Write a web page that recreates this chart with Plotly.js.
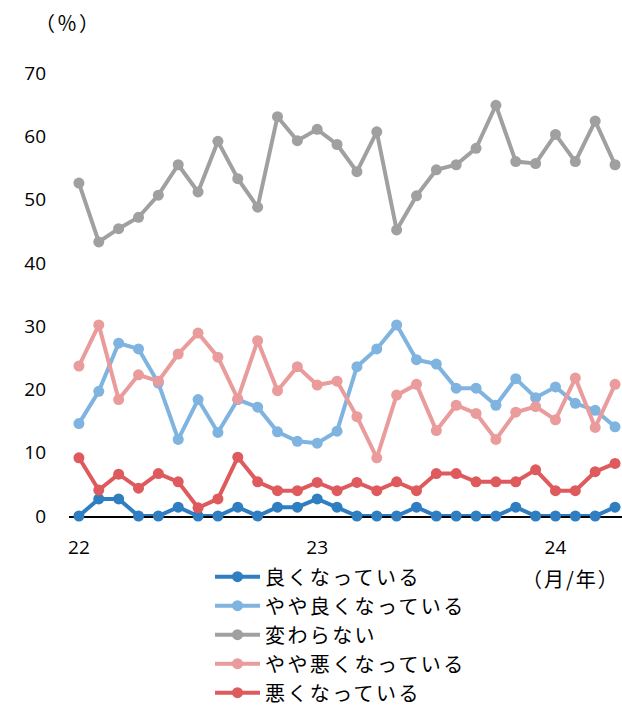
<!DOCTYPE html>
<html>
<head>
<meta charset="utf-8">
<script src="https://cdn.plot.ly/plotly-3.0.1.min.js"></script>
<style>
html,body{margin:0;padding:0;background:#fff;}
#chart{width:622px;height:706px;}
.legendtext{letter-spacing:2.4px;}
.annotation-text{letter-spacing:2px;}
</style>
</head>
<body>
<div id="chart"></div>
<script>
// Monthly observations, Jan 2022 – Apr 2024 (index 0 = Jan 2022)
const months = Array.from({length: 28}, (_, i) => i);
const tickVals = [0, 12, 24];
const tickText = ["22", "23", "24"];

const seriesNames = ["良くなっている", "やや良くなっている", "変わらない", "やや悪くなっている", "悪くなっている"];

const better = [0, 2.7, 2.7, 0, 0, 1.4, 0, 0, 1.4, 0, 1.4, 1.4, 2.7, 1.4, 0, 0, 0, 1.4, 0, 0, 0, 0, 1.4, 0, 0, 0, 0, 1.4];
const slightlyBetter = [14.6, 19.7, 27.3, 26.4, 21.0, 12.1, 18.4, 13.2, 18.4, 17.2, 13.3, 11.8, 11.5, 13.4, 23.6, 26.4, 30.2, 24.7, 24.0, 20.2, 20.2, 17.5, 21.7, 18.7, 20.4, 17.8, 16.7, 14.1];
const unchanged = [52.6, 43.3, 45.4, 47.2, 50.7, 55.5, 51.2, 59.2, 53.3, 48.8, 63.1, 59.3, 61.1, 58.7, 54.4, 60.7, 45.2, 50.6, 54.7, 55.5, 58.1, 64.9, 56.0, 55.7, 60.3, 56.0, 62.4, 55.5];
const slightlyWorse = [23.7, 30.2, 18.4, 22.3, 21.3, 25.6, 28.9, 25.1, 18.5, 27.7, 19.8, 23.6, 20.7, 21.3, 15.7, 9.2, 19.1, 20.8, 13.5, 17.5, 16.2, 12.1, 16.4, 17.3, 15.2, 21.8, 14.0, 20.8];
const worse = [9.2, 4.1, 6.6, 4.4, 6.7, 5.4, 1.3, 2.7, 9.3, 5.4, 4.0, 4.0, 5.3, 4.0, 5.3, 4.0, 5.4, 4.0, 6.7, 6.7, 5.4, 5.4, 5.4, 7.3, 4.0, 4.0, 7.0, 8.3];

const colors = ["#2F7EC1", "#7FB3E0", "#A0A0A0", "#EA9B9B", "#DE5A5D"];
const values = [better, slightlyBetter, unchanged, slightlyWorse, worse];

const traces = values.map((v, k) => ({
  x: months,
  y: v,
  name: seriesNames[k],
  type: "scatter",
  mode: "lines+markers",
  line: {color: colors[k], width: 4},
  marker: {color: colors[k], size: 11},
  cliponaxis: false
}));

const cjk = "Noto Sans CJK JP";

const layout = {
  width: 622,
  height: 706,
  margin: {l: 69, r: 0, t: 73, b: 190, autoexpand: false},
  paper_bgcolor: "#fff",
  plot_bgcolor: "#fff",
  showlegend: true,
  font: {family: "Open Sans", color: "#000"},
  xaxis: {
    range: [-0.5, 27.35],
    tickvals: tickVals,
    ticktext: tickText,
    showgrid: false,
    zeroline: false,
    showline: true,
    linecolor: "#000",
    linewidth: 1.5,
    ticks: "",
    ticklabelstandoff: 14,
    tickfont: {size: 19, family: "Open Sans", color: "#000"},
    layer: "below traces",
    fixedrange: true
  },
  yaxis: {
    range: [0, 70],
    tickvals: [0, 10, 20, 30, 40, 50, 60, 70],
    showgrid: false,
    zeroline: false,
    showline: false,
    ticks: "",
    ticklabelstandoff: 22,
    tickfont: {size: 19, family: "Open Sans", color: "#000"},
    layer: "below traces",
    fixedrange: true
  },
  legend: {
    orientation: "v",
    x: 0.255,
    xanchor: "left",
    y: -0.093,
    yanchor: "top",
    font: {size: 20, family: cjk, color: "#000"},
    itemwidth: 45,
    tracegroupgap: 0,
    bgcolor: "rgba(0,0,0,0)"
  },
  annotations: [
    {text: "（％）", xref: "paper", yref: "paper", x: -0.065, y: 1.115, xanchor: "left", yanchor: "middle", showarrow: false,
     font: {size: 20, family: cjk, color: "#000"}},
    {text: "（月/年）", xref: "paper", yref: "paper", x: 1.0, y: -0.14, xanchor: "right", yanchor: "middle", showarrow: false,
     font: {size: 20, family: cjk, color: "#000"}}
  ]
};

Plotly.newPlot("chart", traces, layout, {displayModeBar: false, staticPlot: true});
</script>
</body>
</html>
